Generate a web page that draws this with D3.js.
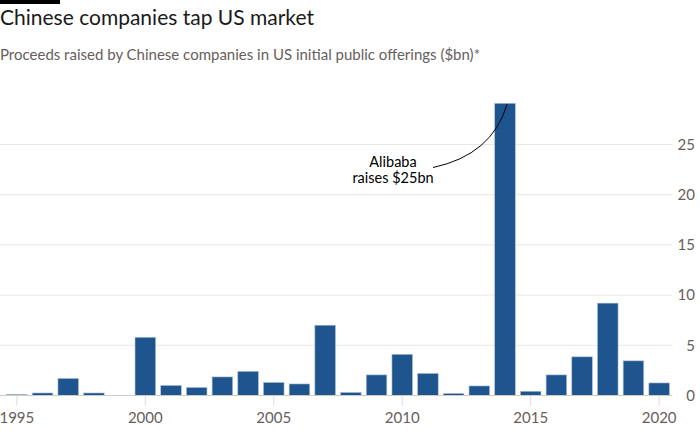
<!DOCTYPE html>
<html><head><meta charset="utf-8">
<script src="https://cdn.jsdelivr.net/npm/d3@7"></script>
<style>body{margin:0;background:#fff;}svg{display:block;font-family:Lato, "Noto Sans", sans-serif;}</style>
</head><body><svg id="c" width="700" height="434"></svg>
<script>
const years = d3.range(1995, 2021);
const proceeds = [0.1,0.25,1.7,0.25,0,5.8,1.0,0.8,1.85,2.4,1.3,1.15,7.0,0.3,2.05,4.1,2.2,0.2,0.95,29.1,0.42,2.05,3.85,9.2,3.45,1.25];
const yTicks = [0,5,10,15,20,25];
const xTicks = [1995,2000,2005,2010,2015,2020];
const title = "Chinese companies tap US market";
const subtitle = "Proceeds raised by Chinese companies in US initial public offerings ($bn)*";
const annotation = ["Alibaba","raises $25bn"];

const svg = d3.select("#c");
const FONT = "Lato, 'Noto Sans', sans-serif";
const x = d3.scaleBand().domain(years).range([4,672]).paddingInner(0.2).paddingOuter(0.1);
const y = d3.scaleLinear().domain([0,25]).range([395.5,144.5]);

svg.append("rect").attr("x",0).attr("y",0).attr("width",60).attr("height",4).attr("fill","#000");
svg.append("text").attr("x",0).attr("y",25).attr("font-size",21).attr("fill","#1a1a1a").text(title);
svg.append("text").attr("x",0).attr("y",60).attr("font-size",15).attr("fill","#66605c").text(subtitle);

// gridlines
svg.append("g").selectAll("line").data(yTicks.filter(d=>d>0)).join("line")
  .attr("x1",0).attr("x2",672).attr("y1",d=>y(d)).attr("y2",d=>y(d))
  .attr("stroke","#ebe6e0").attr("stroke-width",1);

// y axis labels (right aligned)
const ya = d3.axisRight(y).tickValues(yTicks).tickSize(0).tickPadding(0);
const gy = svg.append("g").attr("transform","translate(695,0)").call(ya)
  .attr("font-family",FONT).attr("font-size",15);
gy.select(".domain").remove();
gy.selectAll("text").attr("text-anchor","end").attr("fill","#66605c");

// x axis
const xa = d3.axisBottom(x).tickValues(xTicks).tickSize(10).tickPadding(7);
const gx = svg.append("g").attr("transform",`translate(0,${y(0)})`).call(xa)
  .attr("font-family",FONT).attr("font-size",15);
gx.select(".domain").remove();
gx.selectAll(".tick line").attr("stroke","#e0dbd6");
gx.selectAll("text").attr("fill","#66605c");

// bars
svg.append("g").selectAll("rect").data(years.map((yr,i)=>({yr,v:proceeds[i]}))).join("rect")
  .attr("x",d=>x(d.yr)).attr("width",x.bandwidth())
  .attr("y",d=>y(d.v)).attr("height",d=>y(0)-y(d.v))
  .attr("fill","#1f558e").attr("stroke","#a9bfd6").attr("stroke-width",0.6);

svg.append("line").attr("x1",0).attr("x2",672).attr("y1",y(0)).attr("y2",y(0)).attr("stroke","#cfcac5").attr("stroke-width",1.2);

// annotation
const bx = x(2014)+x.bandwidth()*0.6, by = y(proceeds[19])+1;
svg.append("path").attr("d",`M433,167.5 Q492,155 ${bx},${by}`).attr("fill","none").attr("stroke","#000").attr("stroke-width",1);
svg.append("text").attr("x",393).attr("y",167).attr("text-anchor","middle").attr("font-size",14.5).attr("fill","#000").text(annotation[0]);
svg.append("text").attr("x",393).attr("y",183).attr("text-anchor","middle").attr("font-size",14.5).attr("fill","#000").text(annotation[1]);
</script></body></html>
